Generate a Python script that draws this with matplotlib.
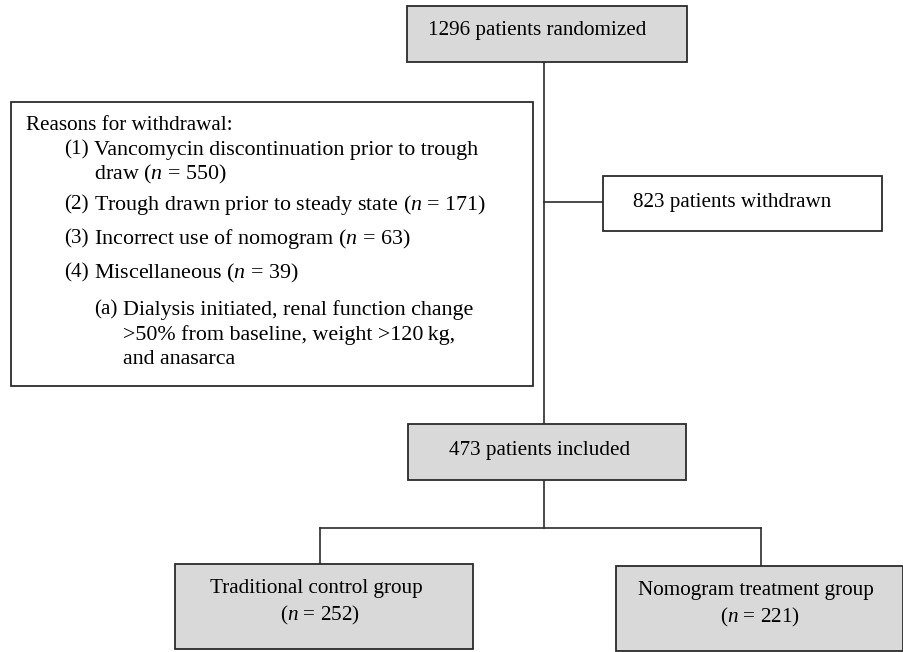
import matplotlib.pyplot as plt
from matplotlib.patches import Rectangle

plt.rcParams['font.family'] = ['Liberation Serif', 'DejaVu Serif']
plt.rcParams['mathtext.fontset'] = 'custom'
plt.rcParams['mathtext.it'] = 'Liberation Serif:italic'
plt.rcParams['mathtext.rm'] = 'Liberation Serif'

# numbers in the flow
n_randomized = 1296
n_withdrawn = 823
n_included = 473
group_names = ['Traditional control group', 'Nomogram treatment group']
group_n = [252, 221]
reason_labels = ['Vancomycin discontinuation prior to trough\ndraw',
                 'Trough drawn prior to steady state',
                 'Incorrect use of nomogram',
                 'Miscellaneous']
reason_n = [550, 171, 63, 39]
misc_note = 'Dialysis initiated, renal function change\n>50% from baseline, weight >120\u2009kg,\nand anasarca'

fig = plt.figure(figsize=(9.04, 6.52), dpi=100)
ax = fig.add_axes([0, 0, 1, 1])
ax.set_xlim(0, 904)
ax.set_ylim(652, 0)
ax.axis('off')

gray = '#d9d9d9'
edge = '#2b2b2b'
fs = 15.2
fs_r = 15.8
dy = 2  # small nudge so text sits like the original


def box(x0, y0, x1, y1, fill):
    ax.add_patch(Rectangle((x0, y0), x1 - x0, y1 - y0, facecolor=fill,
                           edgecolor=edge, lw=1.3, zorder=2))


def line(xs, ys):
    ax.plot(xs, ys, color=edge, lw=1.2, zorder=1)


# connectors
line([544, 544], [62, 424])
line([544, 603], [202, 202])
line([544, 544], [480, 528])
line([320, 761], [528, 528])
line([320, 320], [528, 564])
line([761, 761], [528, 566])

# top box
box(407, 6, 687, 62, gray)
ax.text(428, 29 + dy, f'{n_randomized} patients randomized', fontsize=fs,
        va='center', ha='left')

# withdrawn box
box(603, 176, 882, 231, 'white')
ax.text(633, 201 + dy, f'{n_withdrawn} patients withdrawn', fontsize=fs,
        va='center', ha='left')

# reasons box
box(11, 102, 533, 386, 'white')
ax.text(26, 123 + dy, 'Reasons for withdrawal:', fontsize=fs, va='center')
ys = [148, 203, 237, 271]
for i, (lab, n) in enumerate(zip(reason_labels, reason_n)):
    y = ys[i] + dy
    ax.text(64, y, f'({i + 1})', fontsize=fs, va='center')
    parts = lab.split('\n')
    if len(parts) > 1:
        ax.text(94, y, parts[0], fontsize=fs_r, va='center')
        ax.text(94, y + 24, parts[1] + f' ($n$ = {n})', fontsize=fs_r,
                va='center')
    else:
        ax.text(94, y, lab + f' ($n$ = {n})', fontsize=fs_r, va='center')
ax.text(94, 308 + dy, '(a)', fontsize=fs, va='center')
for j, part in enumerate(misc_note.split('\n')):
    ax.text(123, 308 + dy + j * 25, part, fontsize=fs_r, va='center')

# included box
box(408, 424, 686, 480, gray)
ax.text(540, 448 + dy, f'{n_included} patients included', fontsize=fs,
        va='center', ha='center')

# group boxes
group_boxes = [(175, 564, 473, 649), (616, 566, 903, 651)]
centers = [316, 756]
for (x0, y0, x1, y1), cx, name, n in zip(group_boxes, centers, group_names, group_n):
    box(x0, y0, x1, y1, gray)
    ax.text(cx, y0 + 23 + dy, name, fontsize=fs, va='center', ha='center')
    ax.text(cx + 4, y0 + 49 + dy, f'($n$ = {n})', fontsize=fs, va='center', ha='center')

fig.savefig('out.png', dpi=100)
